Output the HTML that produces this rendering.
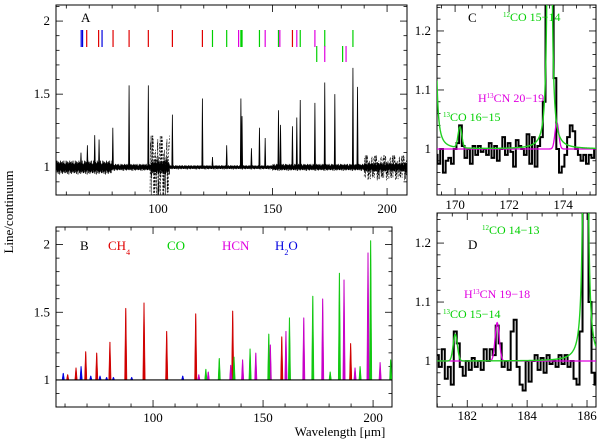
<!DOCTYPE html>
<html><head><meta charset="utf-8"><style>
html,body{margin:0;padding:0;background:#fff;}
svg{display:block;font-family:"Liberation Serif",serif;}
</style></head><body>
<svg id="fig" width="600" height="441" viewBox="0 0 600 441" xmlns="http://www.w3.org/2000/svg">
<defs>
<clipPath id="clipA"><rect x="56" y="5" width="351" height="190"/></clipPath>
<clipPath id="clipB"><rect x="56" y="227" width="336" height="180"/></clipPath>
<clipPath id="clipC"><rect x="437" y="5" width="159" height="190"/></clipPath>
<clipPath id="clipD"><rect x="437" y="213" width="159" height="194"/></clipPath>
</defs>
<g id="layer"></g>
<text transform="translate(13,212) rotate(-90)" text-anchor="middle" font-size="13">Line/continuum</text>
<text x="340" y="436" text-anchor="middle" font-size="13">Wavelength [μm]</text>
</svg>
<script>
// ---- Panel A data ----
const aLineWl = [66.4,69.2,72.4,74.3,80.3,87.4,95.8,106.3,119.4,123.8,130,136.2,136.7,140.8,144.3,146.8,152.6,153.5,158.7,160.6,162.1,168.5,172.8,177.2,185.1,187.1];
const aLinePeak = [1.10,1.15,1.22,1.19,1.27,1.56,1.56,1.36,1.47,1.07,1.15,1.47,1.35,1.13,1.27,1.20,1.39,1.29,1.28,1.34,1.46,1.44,1.58,1.50,1.68,1.55];
const noiseVals = [0.3,-0.8,0.5,0.1,-0.4,0.9,-0.2,-0.7,0.6,0.2,-0.5,0.8,-0.9,0.4,0.0,-0.3,0.7,-0.6,0.2,0.5,-1.0,0.3,0.6,-0.4,-0.1,0.9,-0.5,0.1,-0.8,0.4,0.7,-0.2,-0.6,0.5,0.0,-0.9,0.8,-0.3,0.2,-0.7,0.6,0.1,-0.4,0.9,-0.6,0.3,-0.1,0.5,-0.8,0.2];
const noiseStart = [55.5,80,97,105,150,190];
const noiseEnd = [80,97,105,150,190,209];
const noiseAmp = [0.05,0.025,0.05,0.015,0.025,0.035];
const dashStart = [96.5,190];
const dashEnd = [105,209];
const dashAmp = [0.24,0.09];
const markRow1Wl = [66.5,67.1,68.9,74.1,75.6,80.4,87.4,95.8,106.3,119.4,123.8,130,135.2,136.2,136.7,144.3,146.8,152.6,153.2,158.7,160.6,162.1,168.5,172.8,185.1];
const markRow1Col = ['b','b','r','r','b','r','r','r','r','r','g','g','m','g','g','g','m','g','m','r','m','g','m','g','g'];
const markRow2Wl = [169.3,172.8,180.6,182.1];
const markRow2Col = ['g','m','g','m'];
// ---- Panel B data ----
const bRedWl = [61.2,65.0,69.4,74.4,80.4,87.6,95.9,106.2,119.4,136.2,158.5,189.8];
const bRedPk = [1.04,1.09,1.21,1.20,1.28,1.53,1.57,1.36,1.49,1.51,1.32,1.27];
const bGreenWl = [124.0,130.1,136.8,144.1,152.6,162.0,172.6,180.5,184.7,194.1,198.9,208.0];
const bGreenPk = [1.08,1.16,1.17,1.23,1.34,1.46,1.62,1.06,1.79,1.10,2.03,1.15];
const bMagWl = [120.8,125.1,135.3,140.7,146.7,153.3,160.4,168.5,177.1,186.8,191.8,197.7,203.2];
const bMagPk = [1.04,1.06,1.11,1.15,1.20,1.26,1.36,1.46,1.60,1.74,1.09,1.94,1.13];
const bBlueWl = [59.2,67.3,71.7,75.9,78.9,82.0,90.3,113.5];
const bBluePk = [1.05,1.10,1.03,1.03,1.02,1.02,1.02,1.03];
// ---- Panel C data ----
const cStart = 169.2, cStep = 0.1;
const cFlux = [1.0,0.99,0.975,1.0,0.96,0.98,0.985,0.975,1.0,1.01,1.04,1.005,0.985,1.0,0.975,1.005,0.99,1.005,0.995,1.0,0.99,1.01,0.985,1.005,0.98,1.0,1.02,0.99,1.01,0.995,0.97,1.015,1.005,1.0,0.99,1.025,0.975,1.02,0.97,1.005,1.02,1.08,1.35,1.35,1.35,1.12,1.0,0.96,0.97,0.99,1.02,1.04,1.03,1.0,0.99,0.98,0.99,0.975,0.99,0.985,1.0,1.02,0.99,0.98];
const cCoCenters = [169.2,173.5], cCoStrength = [0.002,0.003], cCoWidth = [0.02,0.03];
const cIsoCenters = [170.18], cIsoAmp = [0.035];
const cHcnCenters = [173.77], cHcnAmp = [0.045];
// ---- Panel D data ----
const dStart = 181.0, dStep = 0.1;
const dFlux = [1.01,0.99,1.02,0.97,0.99,0.96,1.05,1.03,0.99,0.975,1.0,0.985,1.005,0.99,1.0,0.985,1.02,1.0,1.02,1.01,1.06,1.03,0.99,1.0,0.985,1.05,1.07,0.99,0.96,0.95,1.0,0.965,1.0,1.01,0.985,1.005,0.98,1.01,0.995,1.0,0.99,1.01,0.995,1.01,0.99,1.0,0.97,0.96,1.05,1.3,1.3,1.1,0.98,0.96,1.02];
const dCoCenters = [185.95], dCoStrength = [0.003], dCoWidth = [0.03];
const dIsoCenters = [181.6], dIsoAmp = [0.045];
const dHcnCenters = [183.0], dHcnAmp = [0.065];

const NS="http://www.w3.org/2000/svg";
const layer=document.getElementById('layer');
const COL={r:'#e00000',g:'#00d000',m:'#e000e0',b:'#0000e0'};
function mk(tag,attrs,parent){const e=document.createElementNS(NS,tag);for(const k in attrs)e.setAttribute(k,attrs[k]);(parent||layer).appendChild(e);return e;}
function scale(d0,d1,r0,r1){return v=>r0+(v-d0)*(r1-r0)/(d1-d0);}

const P={
 A:{x0:56,x1:407,y0:5,y1:195,xd:[55.5,208.7],yd:[0.81,2.11]},
 B:{x0:56,x1:392,y0:227,y1:407,xd:[55.9,208.6],yd:[0.8,2.13]},
 C:{x0:437,x1:596,y0:5,y1:195,xd:[169.33,175.22],yd:[0.922,1.244]},
 D:{x0:437,x1:596,y0:213,y1:407,xd:[180.99,186.3],yd:[0.922,1.251]}
};
for(const k in P){const p=P[k];p.sx=scale(p.xd[0],p.xd[1],p.x0,p.x1);p.sy=scale(p.yd[0],p.yd[1],p.y1,p.y0);}

function axes(p,name,xMaj,xMin,yMaj,yMin,xLabY,fmtY){
 const g=mk('g',{});
 
 
 mk('rect',{x:p.x0,y:p.y0,width:p.x1-p.x0,height:p.y1-p.y0,fill:'none',stroke:'#000','stroke-width':1},g);
 const eps=1e-6;
 let s=Math.ceil(p.xd[0]/xMin-eps)*xMin;
 for(let v=s;v<=p.xd[1]+eps;v+=xMin){
  const X=p.sx(v);const maj=Math.abs(v/xMaj-Math.round(v/xMaj))<1e-4;const L=maj?7:3.5;
  mk('line',{x1:X,x2:X,y1:p.y1,y2:p.y1-L,stroke:'#000','stroke-width':0.8},g);
  mk('line',{x1:X,x2:X,y1:p.y0,y2:p.y0+L,stroke:'#000','stroke-width':0.8},g);
  if(maj){const t=mk('text',{x:X,y:xLabY,'text-anchor':'middle','font-size':13},g);t.textContent=String(Math.round(v));
   
   }
 }
 s=Math.ceil(p.yd[0]/yMin-eps)*yMin;
 for(let v=s;v<=p.yd[1]+eps;v+=yMin){
  const Y=p.sy(v);const maj=Math.abs(v/yMaj-Math.round(v/yMaj))<1e-4;const L=maj?7:3.5;
  mk('line',{x1:p.x0,x2:p.x0+L,y1:Y,y2:Y,stroke:'#000','stroke-width':0.8},g);
  mk('line',{x1:p.x1,x2:p.x1-L,y1:Y,y2:Y,stroke:'#000','stroke-width':0.8},g);
  if(maj){const t=mk('text',{x:p.x0-6,y:Y+4,'text-anchor':'end','font-size':13},g);t.textContent=fmtY(v);
   
   }
 }
}
const fy=v=>{const r=Math.round(v*100)/100;return String(r);};
axes(P.A,'panel-a',50,10,0.5,0.1,213,fy);
axes(P.B,'panel-b',50,10,0.5,0.1,422,fy);
axes(P.C,'panel-c',2,0.5,0.1,0.02,209,v=>String(Math.round(v*10)/10));
axes(P.D,'panel-d',2,0.5,0.1,0.02,420,v=>String(Math.round(v*10)/10));

// ---- Panel A drawing ----
const gA=mk('g',{'clip-path':'url(#clipA)'});


(function(){
 const p=P.A;let pts=[];let k=0;
 for(let i=0;i<noiseStart.length;i++){
  for(let x=noiseStart[i];x<noiseEnd[i];x+=0.08){pts.push(p.sx(x).toFixed(2)+','+p.sy(1+noiseAmp[i]*noiseVals[k%noiseVals.length]).toFixed(2));k++;}
 }
 const pl=mk('polyline',{points:pts.join(' '),fill:'none',stroke:'#000','stroke-width':0.8},gA);
 
 
 for(let i=0;i<dashStart.length;i++){
  let q=[];let j=7;
  for(let x=dashStart[i];x<dashEnd[i];x+=0.08){q.push(p.sx(x).toFixed(2)+','+p.sy(1+dashAmp[i]*noiseVals[j%noiseVals.length]).toFixed(2));j+=3;}
  const d=mk('polyline',{points:q.join(' '),fill:'none',stroke:'#000','stroke-width':0.6,'stroke-dasharray':'2,1.5'},gA);
  
  
 }
 for(let i=0;i<aLineWl.length;i++){
  const c=aLineWl[i];
  const l=mk('polyline',{points:`${p.sx(c-0.25)},${p.sy(1)} ${p.sx(c)},${p.sy(aLinePeak[i])} ${p.sx(c+0.25)},${p.sy(1)}`,fill:'#000',stroke:'#000','stroke-width':0.8},gA);
  
  
 }
 function marks(wl,cols,ytop,ybot){for(let i=0;i<wl.length;i++){
  const X=p.sx(wl[i]);const m=mk('line',{x1:X,x2:X,y1:ytop,y2:ybot,stroke:COL[cols[i]],'stroke-width':1.2},gA);
  
  }}
 marks(markRow1Wl,markRow1Col,30,47);
 marks(markRow2Wl,markRow2Col,46,62);
})();

// ---- Panel B drawing ----
const gB=mk('g',{'clip-path':'url(#clipB)'});


(function(){
 const p=P.B;
 function spikes(wl,pk,col,name){for(let i=0;i<wl.length;i++){const c=wl[i];
  const s=mk('polygon',{points:`${p.sx(c-0.55)},${p.sy(1)} ${p.sx(c-0.12)},${p.sy(pk[i])} ${p.sx(c+0.12)},${p.sy(pk[i])} ${p.sx(c+0.55)},${p.sy(1)}`,fill:col,stroke:col,'stroke-width':0.5},gB);
  
  }}
 spikes(bBlueWl,bBluePk,COL.b,'h2o-line');
 spikes(bRedWl,bRedPk,'#d00000','ch4-line');
 spikes(bMagWl,bMagPk,'#c800c8','hcn-line');
 spikes(bGreenWl,bGreenPk,'#10c810','co-line');
 const bl=mk('line',{x1:p.x0,x2:p.x1,y1:p.sy(1),y2:p.sy(1),stroke:'#000','stroke-width':1.2},gB);
 
 
})();

// ---- Panels C & D ----
function zoomPanel(p,clip,name,start,step,flux,coC,coS,coW,isoC,isoA,hcnC,hcnA){
 const g=mk('g',{'clip-path':clip});
 
 
 let d='';
 for(let i=0;i<flux.length;i++){const xa=p.sx(start+(i-0.5)*step),xb=p.sx(start+(i+0.5)*step),Y=p.sy(flux[i]);
  d+=(i===0?'M':'L')+xa.toFixed(2)+','+Y.toFixed(2)+'L'+xb.toFixed(2)+','+Y.toFixed(2);}
 let mp=[];for(let x=p.xd[0];x<=p.xd[1];x+=0.01){let v=1;for(let i=0;i<hcnC.length;i++)v+=hcnA[i]*Math.exp(-((x-hcnC[i])**2)/(2*0.07*0.07));mp.push(p.sx(x).toFixed(2)+','+p.sy(v).toFixed(2));}
 const obs=mk('path',{d:d,fill:'none',stroke:'#000','stroke-width':2},g);
 
 
 const m=mk('polyline',{points:mp.join(' '),fill:'none',stroke:'#e000e0','stroke-width':1.3},g);
 
 
 let gp=[];for(let x=p.xd[0];x<=p.xd[1];x+=0.005){let v=1;
  for(let i=0;i<coC.length;i++)v+=coS[i]/((x-coC[i])**2+coW[i]**2);
  for(let i=0;i<isoC.length;i++)v+=isoA[i]*Math.exp(-((x-isoC[i])**2)/(2*0.07*0.07));
  v=Math.min(v,2);gp.push(p.sx(x).toFixed(2)+','+p.sy(v).toFixed(2));}
 const gm=mk('polyline',{points:gp.join(' '),fill:'none',stroke:'#20d020','stroke-width':1.4},g);
 
 
}
zoomPanel(P.C,'url(#clipC)','panel-c-zoom',cStart,cStep,cFlux,cCoCenters,cCoStrength,cCoWidth,cIsoCenters,cIsoAmp,cHcnCenters,cHcnAmp);
zoomPanel(P.D,'url(#clipD)','panel-d-zoom',dStart,dStep,dFlux,dCoCenters,dCoStrength,dCoWidth,dIsoCenters,dIsoAmp,dHcnCenters,dHcnAmp);

// ---- Labels ----
function label(x,y,html,col,name,size){const t=mk('text',{x:x,y:y,fill:col,'font-size':size||13});t.innerHTML=html;
 
 }
label(81,22,'A','#000','panel-a-label');
label(80,250,'B','#000','panel-b-label');
label(108,250,'CH<tspan baseline-shift="sub" font-size="8">4</tspan>','#e00000','legend-ch4');
label(167,250,'CO','#00d000','legend-co');
label(222,250,'HCN','#e000e0','legend-hcn');
label(275,250,'H<tspan baseline-shift="sub" font-size="8">2</tspan>O','#0000e0','legend-h2o');
label(468,22,'C','#000','panel-c-label');
label(503,21,'<tspan baseline-shift="super" font-size="7">12</tspan>CO 15−14','#00d000','label-12co-15-14',12);
label(478,102,'H<tspan baseline-shift="super" font-size="7">13</tspan>CN 20−19','#e000e0','label-h13cn-20-19',12);
label(443,121,'<tspan baseline-shift="super" font-size="7">13</tspan>CO 16−15','#00d000','label-13co-16-15',12);
label(482,234,'<tspan baseline-shift="super" font-size="7">12</tspan>CO 14−13','#00d000','label-12co-14-13',12);
label(468,249,'D','#000','panel-d-label');
label(464,298,'H<tspan baseline-shift="super" font-size="7">13</tspan>CN 19−18','#e000e0','label-h13cn-19-18',12);
label(443,318,'<tspan baseline-shift="super" font-size="7">13</tspan>CO 15−14','#00d000','label-13co-15-14',12);
</script>
</body></html>
